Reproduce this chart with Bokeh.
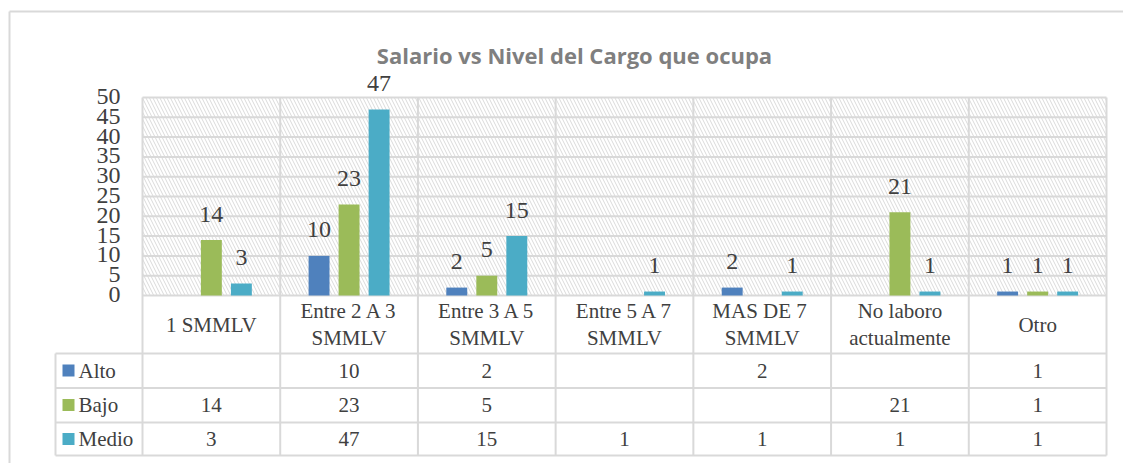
import numpy as np
from bokeh.plotting import figure
from bokeh.models import Range1d, ColumnDataSource
from bokeh.core.properties import value
from bokeh.embed import file_html
from bokeh.resources import INLINE

# ---------------- data ----------------
title = "Salario vs Nivel del Cargo que ocupa"
categories = ["1 SMMLV", "Entre 2 A 3\nSMMLV", "Entre 3 A 5\nSMMLV", "Entre 5 A 7\nSMMLV",
              "MAS  DE 7\nSMMLV", "No laboro\nactualmente", "Otro"]
series_names = ["Alto", "Bajo", "Medio"]
alto = [None, 10, 2, None, 2, None, 1]
bajo = [14, 23, 5, None, None, 21, 1]
medio = [3, 47, 15, 1, 1, 1, 1]
y_ticks = [0, 5, 10, 15, 20, 25, 30, 35, 40, 45, 50]
colors = ["#4F81BD", "#9BBB59", "#4BACC6"]

# ---------------- layout (screen px -> data) ----------------
W, H = 1123, 463
PX = 137.714      # px per category
X0 = 142.0        # screen x of plot left
PY = 3.96         # px per unit
Y0 = 295.0        # screen y of zero
def sx(px):  # screen x -> data x
    return (px - X0) / PX
def sy(py):  # screen y -> data y
    return (Y0 - py) / PY

p = figure(width=W, height=H, output_backend="svg", toolbar_location=None,
           x_range=Range1d(sx(0), sx(W)), y_range=Range1d(sy(H), sy(0)),
           min_border=0, x_axis_type=None, y_axis_type=None)
p.outline_line_color = None
p.grid.visible = False
p.background_fill_color = "white"
p.border_fill_color = "white"

GRID = "#D9D9D9"
TXT = "#404040"
FONT = value("Liberation Serif")
n = len(categories)
ymax = y_ticks[-1]

# outer chart border (left/top)
p.segment(x0=[sx(9), sx(9)], y0=[sy(11), sy(11)], x1=[sx(9), sx(1200)], y1=[sy(480), sy(11)],
          line_color=GRID, line_width=2)

# hatched plot area
p.quad(left=[0], right=[n], bottom=[0], top=[ymax], fill_alpha=0, line_alpha=0,
       hatch_pattern="\\", hatch_color="#DADADA", hatch_scale=7, hatch_weight=1)

# horizontal gridlines
p.segment(x0=[0] * len(y_ticks), y0=y_ticks, x1=[n] * len(y_ticks), y1=y_ticks,
          line_color=GRID, line_width=2)

# table rows
row_lines = [sy(353), sy(387.5), sy(422), sy(455)]
p.segment(x0=[sx(55)] * len(row_lines), y0=row_lines, x1=[n] * len(row_lines), y1=row_lines,
          line_color=GRID, line_width=2)
# vertical lines
vx = list(range(n + 1))
p.segment(x0=vx, y0=[ymax] * len(vx), x1=vx, y1=[sy(455)] * len(vx),
          line_color=GRID, line_width=2)
p.segment(x0=[sx(55)], y0=[sy(353)], x1=[sx(55)], y1=[sy(455)], line_color=GRID, line_width=2)

# bars
offsets = [-0.218, 0.0, 0.218]
bw = 0.152
for vals, off, col in zip([alto, bajo, medio], offsets, colors):
    xs = [i + 0.5 + off for i, v in enumerate(vals) if v is not None]
    ys = [v for v in vals if v is not None]
    src = ColumnDataSource(dict(x=xs, top=ys, lab=[str(v) for v in ys]))
    p.vbar(x="x", top="top", bottom=0, width=bw, source=src, fill_color=col, line_color=None)
    p.text(x="x", y="top", text="lab", source=src, text_align="center",
           text_baseline="alphabetic", y_offset=-26, text_font=FONT,
           text_font_size="24px", text_color=TXT)

# y tick labels
p.text(x=[sx(120)] * len(y_ticks), y=y_ticks, text=[str(t) for t in y_ticks],
       text_align="right", text_baseline="middle", text_font=FONT,
       text_font_size="24px", text_color=TXT, y_offset=-1)

# category labels
p.text(x=[i + 0.5 for i in range(n)], y=[sy(324)] * n, text=categories,
       text_align="center", text_baseline="middle", text_font=FONT,
       text_font_size="21px", text_color=TXT, text_line_height=1.15)

# table values and legend
row_centers = [sy(370), sy(404.5), sy(438.5)]
for vals, rc, name, col in zip([alto, bajo, medio], row_centers, series_names, colors):
    xs = [i + 0.5 for i, v in enumerate(vals) if v is not None]
    labs = [str(v) for v in vals if v is not None]
    p.text(x=xs, y=[rc] * len(xs), text=labs, text_align="center", text_baseline="middle",
           text_font=FONT, text_font_size="21px", text_color=TXT)
    p.scatter(x=[sx(68)], y=[rc], marker="square", size=12, fill_color=col, line_color=None)
    p.text(x=[sx(78)], y=[rc], text=[name], text_align="left", text_baseline="middle",
           text_font=FONT, text_font_size="21px", text_color=TXT)

# title
p.text(x=[sx(574)], y=[sy(54)], text=[title], text_align="center", text_baseline="alphabetic",
       text_font=value("Open Sans"), text_font_style="bold", text_font_size="22px",
       text_color="#7F7F7F")

open("out.html", "w").write(file_html(p, INLINE))
